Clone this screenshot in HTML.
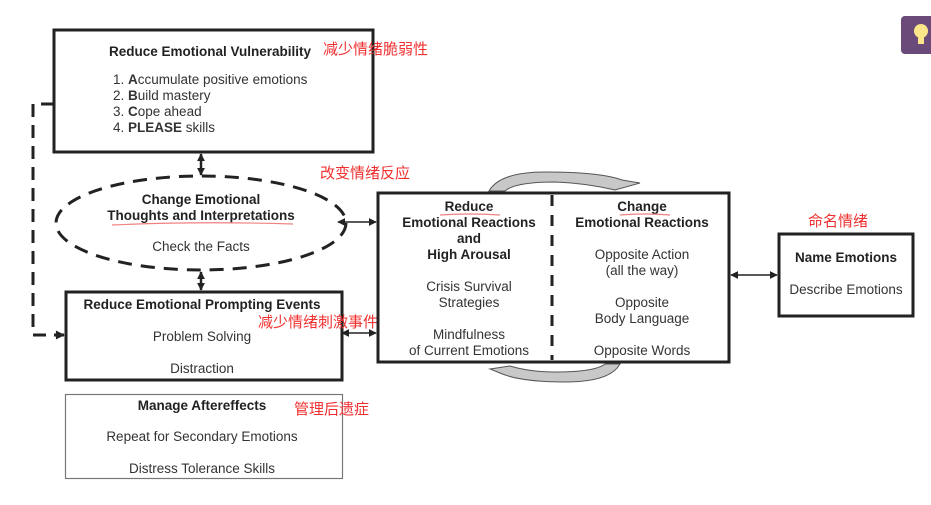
<!DOCTYPE html>
<html><head><meta charset="utf-8"><style>
body{margin:0;background:#fff;}
svg{display:block;font-family:"Liberation Sans",Arial,sans-serif;}
.b{font-weight:bold;font-size:13.5px;fill:#222;}
.t{font-size:13.5px;fill:#333;}
.r{font-family:"Liberation Sans","Noto Sans CJK SC",sans-serif;font-size:15px;fill:#f03030;}
</style></head><body>
<svg width="931" height="505" viewBox="0 0 931 505">
<defs>
<marker id="a" viewBox="0 0 10 10" refX="9" refY="5" markerWidth="8" markerHeight="8" markerUnits="userSpaceOnUse" orient="auto-start-reverse"><path d="M0,0L10,5L0,10z" fill="#222"/></marker>
<marker id="s" viewBox="0 0 10 10" refX="9" refY="5" markerWidth="10" markerHeight="9" markerUnits="userSpaceOnUse" orient="auto-start-reverse"><path d="M0,0L10,5L0,10z" fill="#222"/></marker>
</defs>
<rect x="54" y="30" width="319" height="122" fill="none" stroke="#222" stroke-width="3"/>
<text x="210" y="56" text-anchor="middle" class="b">Reduce Emotional Vulnerability</text>
<text x="113" y="84" class="t">1.  <tspan font-weight="bold">A</tspan>ccumulate positive emotions</text>
<text x="113" y="100" class="t">2.  <tspan font-weight="bold">B</tspan>uild mastery</text>
<text x="113" y="116" class="t">3.  <tspan font-weight="bold">C</tspan>ope ahead</text>
<text x="113" y="132" class="t">4.  <tspan font-weight="bold">PLEASE</tspan> skills</text>
<text x="323" y="54" class="r">减少情绪脆弱性</text>
<ellipse cx="201" cy="223" rx="145" ry="47" fill="none" stroke="#222" stroke-width="3" stroke-dasharray="14,9"/>
<text x="201" y="204" text-anchor="middle" class="b">Change Emotional</text>
<text x="201" y="220" text-anchor="middle" class="b">Thoughts and Interpretations</text>
<path d="M112 225 Q200 221 293 224" stroke="#f08080" stroke-width="1.2" fill="none"/>
<text x="201" y="251" text-anchor="middle" class="t">Check the Facts</text>
<text x="320" y="178" class="r">改变情绪反应</text>
<rect x="66" y="292" width="276" height="88" fill="none" stroke="#222" stroke-width="3"/>
<text x="202" y="309" text-anchor="middle" class="b">Reduce Emotional Prompting Events</text>
<text x="202" y="341" text-anchor="middle" class="t">Problem Solving</text>
<text x="202" y="373" text-anchor="middle" class="t">Distraction</text>
<text x="258" y="327" class="r">减少情绪刺激事件</text>
<rect x="65.5" y="394.5" width="277" height="84" fill="none" stroke="#777" stroke-width="1.2"/>
<text x="202" y="410" text-anchor="middle" class="b">Manage Aftereffects</text>
<text x="202" y="441" text-anchor="middle" class="t">Repeat for Secondary Emotions</text>
<text x="202" y="473" text-anchor="middle" class="t">Distress Tolerance Skills</text>
<text x="294" y="414" class="r">管理后遗症</text>
<path d="M54 104 H33 V335 H64" fill="none" stroke="#222" stroke-width="3" stroke-dasharray="13,8" marker-end="url(#s)"/>
<line x1="201" y1="154" x2="201" y2="175" stroke="#222" stroke-width="2.5" marker-start="url(#a)" marker-end="url(#a)"/>
<line x1="201" y1="272" x2="201" y2="290" stroke="#222" stroke-width="2.5" marker-start="url(#a)" marker-end="url(#a)"/>
<line x1="338" y1="222" x2="376" y2="222" stroke="#222" stroke-width="1.5" marker-start="url(#a)" marker-end="url(#a)"/>
<line x1="342" y1="333" x2="376" y2="333" stroke="#222" stroke-width="1.5" marker-start="url(#a)" marker-end="url(#a)"/>
<line x1="731" y1="275" x2="777" y2="275" stroke="#222" stroke-width="1.5" marker-start="url(#a)" marker-end="url(#a)"/>
<rect x="378" y="193" width="351" height="169" fill="none" stroke="#222" stroke-width="3"/>
<line x1="552" y1="195" x2="552" y2="360" stroke="#222" stroke-width="3" stroke-dasharray="11,9"/>
<text x="469" y="211" text-anchor="middle" class="b">Reduce</text>
<path d="M440 215 Q470 213 500 215" stroke="#f08080" stroke-width="1.2" fill="none"/>
<text x="469" y="227" text-anchor="middle" class="b">Emotional Reactions</text>
<text x="469" y="243" text-anchor="middle" class="b">and</text>
<text x="469" y="259" text-anchor="middle" class="b">High Arousal</text>
<text x="469" y="291" text-anchor="middle" class="t">Crisis Survival</text>
<text x="469" y="307" text-anchor="middle" class="t">Strategies</text>
<text x="469" y="339" text-anchor="middle" class="t">Mindfulness</text>
<text x="469" y="355" text-anchor="middle" class="t">of Current Emotions</text>
<text x="642" y="211" text-anchor="middle" class="b">Change</text>
<path d="M620 215 Q645 213 670 215" stroke="#f08080" stroke-width="1.2" fill="none"/>
<text x="642" y="227" text-anchor="middle" class="b">Emotional Reactions</text>
<text x="642" y="259" text-anchor="middle" class="t">Opposite Action</text>
<text x="642" y="275" text-anchor="middle" class="t">(all the way)</text>
<text x="642" y="307" text-anchor="middle" class="t">Opposite</text>
<text x="642" y="323" text-anchor="middle" class="t">Body Language</text>
<text x="642" y="355" text-anchor="middle" class="t">Opposite Words</text>
<path d="M489 191 Q500 172 545 172 Q600 172 622 180 L640 183 L615 190 Q585 183 555 182 Q515 182 505 191 Z" fill="#c8c8c8" stroke="#555" stroke-width="1"/>
<path d="M620 364 Q610 382 565 382 Q520 382 500 373 L490 369 L510 366 Q530 372 555 372 Q595 372 605 364 Z" fill="#c8c8c8" stroke="#555" stroke-width="1"/>
<rect x="779" y="234" width="134" height="82" fill="none" stroke="#222" stroke-width="3"/>
<text x="846" y="262" text-anchor="middle" class="b">Name Emotions</text>
<text x="846" y="294" text-anchor="middle" class="t">Describe Emotions</text>
<text x="808" y="226" class="r">命名情绪</text>
<rect x="901" y="16" width="34" height="38" rx="4" fill="#6a4a78"/>
<circle cx="921" cy="31" r="7" fill="#fbe68a"/>
<rect x="918" y="37" width="6" height="7" fill="#fbe68a"/>
</svg>
</body></html>
